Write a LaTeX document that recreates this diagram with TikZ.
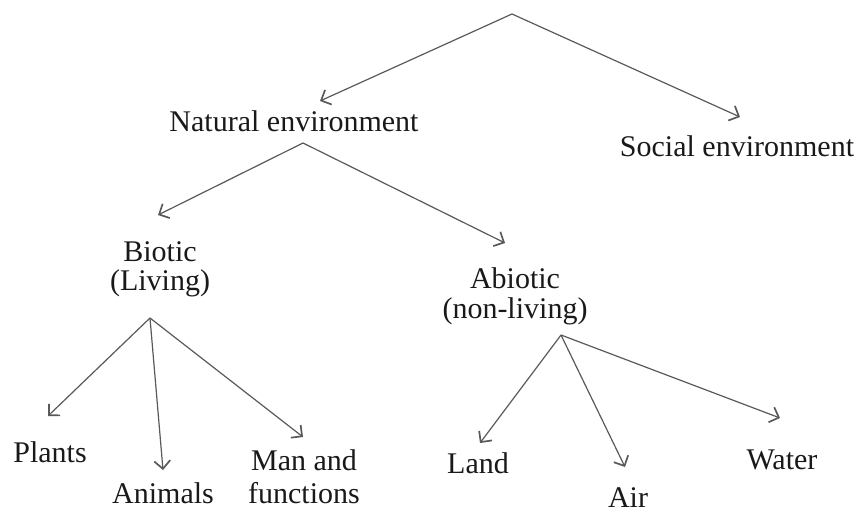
\documentclass[tikz,border=0pt]{standalone}
\usepackage{fontspec}
\setmainfont{Liberation Serif}
\usetikzlibrary{arrows.meta}
\begin{document}
\begin{tikzpicture}[x=1pt,y=-1pt,
  label/.style={inner sep=0pt,anchor=base,text=black!90,
    font=\fontsize{30}{29}\selectfont,align=center},
  branch/.style={draw=black!65,line width=1.2pt,
    -{Straight Barb[length=8pt,width=16pt,line width=1.7pt]}}]
\useasboundingbox (0,0) rectangle (867,513);

% splitting points
\coordinate (root)  at (512,14);
\coordinate (natsp) at (303,143);
\coordinate (biosp) at (150,318);
\coordinate (abisp) at (561,335);

% arrow ends
\coordinate (natend)  at (320,101);
\coordinate (socend)  at (740,117);
\coordinate (bioend)  at (158,215);
\coordinate (abiend)  at (505,243);
\coordinate (plaend)  at (48,416);
\coordinate (aniend)  at (163,470);
\coordinate (manend)  at (303,437);
\coordinate (lanend)  at (480,443);
\coordinate (airend)  at (625,467);
\coordinate (watend)  at (780,418);

% labels (base anchor sits on the last line)
\node[label] (nat) at (294,132) {Natural environment};
\node[label] (soc) at (737,157) {Social environment};
\node[label] (bio) at (160,290) {Biotic\\(Living)};
\node[label] (abi) at (515,318) {Abiotic\\[1pt](non-living)};
\node[label] (pla) at (50,462)  {Plants};
\node[label] (ani) at (163,503) {Animals};
\node[label] (man) at (304,503) {Man and\\[4pt]functions};
\node[label] (lan) at (478,473) {Land};
\node[label] (air) at (628,507) {Air};
\node[label] (wat) at (782,469) {Water};

% branches
\draw[branch] (root) -- (natend);
\draw[branch] (root) -- (socend);
\draw[branch] (natsp) -- (bioend);
\draw[branch] (natsp) -- (abiend);
\draw[branch] (biosp) -- (plaend);
\draw[branch] (biosp) -- (aniend);
\draw[branch] (biosp) -- (manend);
\draw[branch] (abisp) -- (lanend);
\draw[branch] (abisp) -- (airend);
\draw[branch] (abisp) -- (watend);
\end{tikzpicture}
\end{document}
